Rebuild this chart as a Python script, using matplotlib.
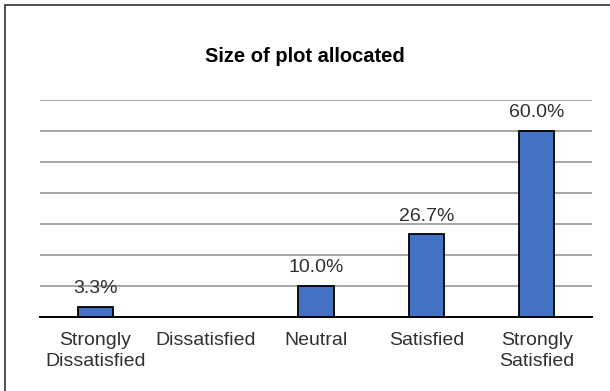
import matplotlib.pyplot as plt
from matplotlib.patches import Rectangle

categories = ["Strongly\nDissatisfied", "Dissatisfied", "Neutral", "Satisfied", "Strongly\nSatisfied"]
values = [3.3, 0.0, 10.0, 26.7, 60.0]
labels = ["3.3%", "", "10.0%", "26.7%", "60.0%"]
title = "Size of plot allocated"

plt.rcParams['font.family'] = ['Liberation Sans', 'DejaVu Sans']

fig = plt.figure(figsize=(6.10, 3.91), dpi=100)
ax = fig.add_axes([40 / 610, 1 - 317 / 391, 552 / 610, 217 / 391])

x = list(range(len(categories)))
bars = ax.bar(x, values, width=0.32, color='#4472C4', edgecolor='black', linewidth=1.3, zorder=3)

for b, lab in zip(bars, labels):
    if lab:
        ax.annotate(lab, (b.get_x() + b.get_width() / 2, b.get_height()),
                    xytext=(0, 7), textcoords='offset points',
                    ha='center', va='bottom', fontsize=14, color='#303030')

ax.set_xlim(-0.5, len(categories) - 0.5)
ax.set_ylim(0, 70)
ax.set_yticks(range(0, 71, 10))
ax.yaxis.grid(True, color='#A6A6A6', linewidth=1.4, zorder=0)
ax.set_yticklabels([])
ax.tick_params(axis='y', length=0)
ax.tick_params(axis='x', length=0, pad=11, labelsize=14, labelcolor='#303030')
ax.set_xticks(x)
ax.set_xticklabels(categories, linespacing=1.3)
for s in ['top', 'right', 'left']:
    ax.spines[s].set_visible(False)
ax.spines['bottom'].set_linewidth(1.4)
ax.spines['bottom'].set_zorder(4)

fig.text(0.5, 1 - 56 / 391, title, ha='center', va='center', fontsize=14.5, fontweight='bold')

fig.patches.append(Rectangle((5 / 610, -0.05), 1.2, 1 - 5 / 391 + 0.05, transform=fig.transFigure,
                             fill=False, edgecolor='#404040', linewidth=1.3))

fig.savefig('out.png', dpi=100)
